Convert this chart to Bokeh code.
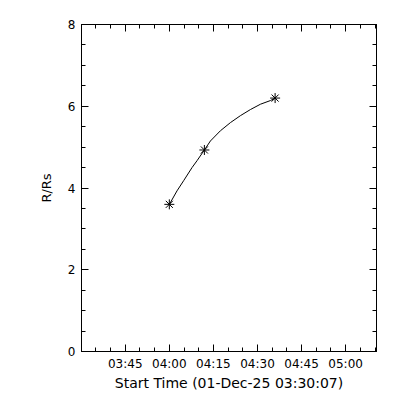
from datetime import datetime
from bokeh.plotting import figure
from bokeh.models import Range1d, FixedTicker, LinearAxis, CustomJSTickFormatter
from bokeh.embed import file_html
from bokeh.resources import INLINE

# ---- data ----
start_time = "03:30:00"
point_times = ["04:00:00", "04:11:56", "04:36:00"]
point_r = [3.60, 4.93, 6.20]

curve_times = ["04:00:06", "04:02:37", "04:04:53", "04:07:44", "04:09:27", "04:11:56",
               "04:13:59", "04:17:23", "04:20:48", "04:24:12", "04:27:37", "04:31:01",
               "04:34:26", "04:35:58"]
curve_r = [3.61, 3.93, 4.18, 4.50, 4.67, 4.93,
           5.15, 5.40, 5.60, 5.77, 5.92, 6.05,
           6.14, 6.20]

x_tick_labels = ["03:45", "04:00", "04:15", "04:30", "04:45", "05:00"]
y_ticks = [0, 2, 4, 6, 8]
x_label = "Start Time (01-Dec-25 03:30:07)"
y_label = "R/Rs"


def minutes(t):
    t0 = datetime.strptime(start_time, "%H:%M:%S")
    t1 = datetime.strptime(t, "%H:%M:%S")
    return (t1 - t0).total_seconds() / 60.0


px = [minutes(t) for t in point_times]
cx = [minutes(t) for t in curve_times]
xt = [minutes(t + ":00") for t in x_tick_labels]

FONT = "DejaVu Sans"

p = figure(width=400, height=400, output_backend="svg", toolbar_location=None,
           x_range=Range1d(minutes("03:30:07"), minutes("05:10:30")),
           y_range=Range1d(0, 8),
           min_border_left=81, min_border_right=24, min_border_top=24, min_border_bottom=49,
           background_fill_color="white", border_fill_color="white")
p.grid.visible = False
p.outline_line_color = "black"
p.outline_line_width = 1

p.line(cx, curve_r, line_color="black", line_width=1)
p.scatter(px, point_r, marker="asterisk", size=10, line_color="black", line_width=1)

xminor = [minutes("03:30:00") + 5 * i for i in range(0, 22)]
yminor = [0.5 * i for i in range(0, 17)]


def style(ax, labels=True):
    ax.axis_line_color = "black"
    ax.major_tick_line_color = "black"
    ax.minor_tick_line_color = "black"
    ax.major_tick_in = 7
    ax.major_tick_out = 0
    ax.minor_tick_in = 4
    ax.minor_tick_out = 0
    ax.major_label_text_font = FONT
    ax.major_label_text_font_size = "12px"
    ax.major_label_text_color = "black"
    ax.axis_label_text_font = FONT
    ax.axis_label_text_font_size = "13px"
    ax.axis_label_text_font_style = "normal"
    ax.axis_label_text_color = "black"
    if not labels:
        ax.formatter = CustomJSTickFormatter(code="return ''")
        ax.major_label_standoff = 0


xax = p.xaxis[0]
xax.ticker = FixedTicker(ticks=xt, minor_ticks=xminor)
xax.major_label_overrides = {v: s for v, s in zip(xt, x_tick_labels)}
xax.axis_label = x_label
style(xax)
xax.axis_label_text_font_size = "14px"
xax.major_label_standoff = 5
xax.axis_label_standoff = 1

yax = p.yaxis[0]
yax.ticker = FixedTicker(ticks=y_ticks, minor_ticks=yminor)
yax.axis_label = y_label
style(yax)
yax.major_label_standoff = 6
yax.axis_label_standoff = 11

top = LinearAxis(ticker=FixedTicker(ticks=xt, minor_ticks=xminor))
style(top, labels=False)
p.add_layout(top, "above")

right = LinearAxis(ticker=FixedTicker(ticks=y_ticks, minor_ticks=yminor))
style(right, labels=False)
p.add_layout(right, "right")

open("out.html", "w").write(file_html(p, INLINE))
